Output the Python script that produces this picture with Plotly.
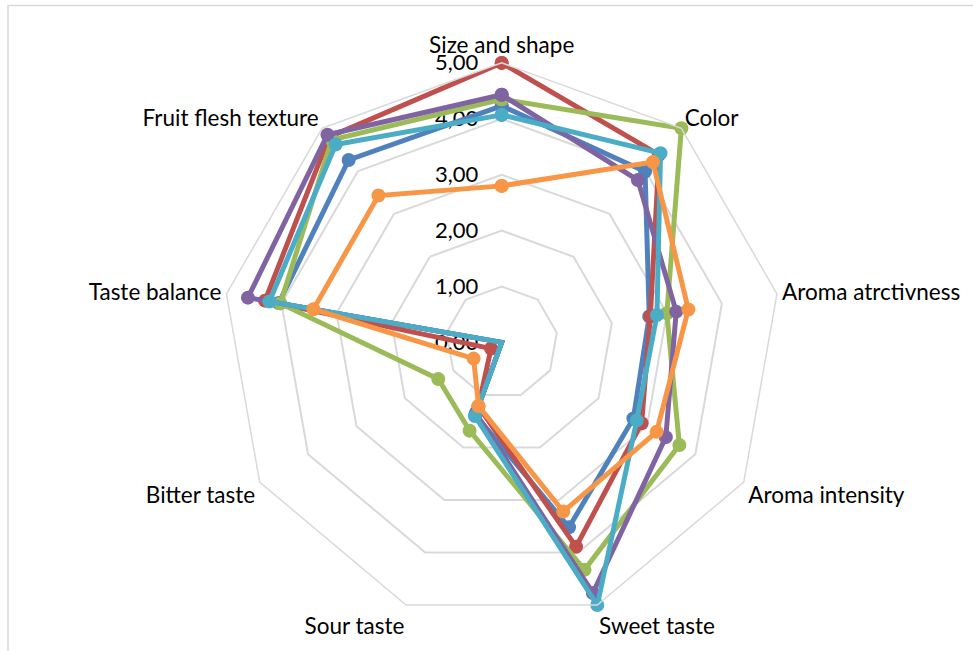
import plotly.graph_objects as go

categories = ["Size and shape", "Color", "Aroma atrctivness", "Aroma intensity",
              "Sweet taste", "Sour taste", "Bitter taste", "Taste balance",
              "Fruit flesh texture"]

series_1 = [4.23, 3.99, 2.68, 2.72, 3.52, 1.38, 0.00, 4.05, 4.26]
series_2 = [5.00, 4.38, 2.70, 2.89, 3.89, 1.22, 0.22, 4.30, 4.80]
series_3 = [4.35, 5.00, 3.00, 3.67, 4.33, 1.68, 1.31, 4.02, 4.73]
series_4 = [4.43, 3.79, 3.17, 3.39, 4.77, 1.35, 0.00, 4.61, 4.85]
series_5 = [4.07, 4.42, 2.82, 2.79, 5.00, 1.40, 0.00, 4.22, 4.62]
series_6 = [2.80, 4.21, 3.39, 3.20, 3.22, 1.21, 0.58, 3.42, 3.43]

series_names = ["Series1", "Series2", "Series3", "Series4", "Series5", "Series6"]
series_values = [series_1, series_2, series_3, series_4, series_5, series_6]
colors = ["#4F81BD", "#C0504D", "#9BBB59", "#8064A2", "#4BACC6", "#F79646"]

tick_values = [0, 1, 2, 3, 4, 5]
tick_labels = ["0,00", "1,00", "2,00", "3,00", "4,00", "5,00"]

fig = go.Figure()
for name, vals, col in zip(series_names, series_values, colors):
    fig.add_trace(go.Scatterpolar(
        r=vals + vals[:1],
        theta=categories + categories[:1],
        mode="lines+markers",
        name=name,
        line=dict(color=col, width=5),
        marker=dict(color=col, size=14),
        cliponaxis=False,
    ))

W, H = 973, 651
cx, cy, R = 501.7, 342.4, 279.5
cyb = H - cy

pad = "\u00a0" * 3 + "\u2009"  # pushes the centred tick text to the left of the axis

fig.update_layout(
    width=W, height=H,
    margin=dict(l=0, r=0, t=0, b=0),
    paper_bgcolor="white",
    plot_bgcolor="white",
    showlegend=False,
    font=dict(family="Lato, 'Open Sans', sans-serif", size=22, color="#000000"),
    polar=dict(
        domain=dict(x=[(cx - R) / W, (cx + R) / W], y=[(cyb - R) / H, (cyb + R) / H]),
        bgcolor="white",
        gridshape="linear",
        angularaxis=dict(
            rotation=90,
            direction="clockwise",
            showgrid=False,
            showline=True,
            linecolor="#D9D9D9",
            linewidth=1.5,
            ticks="",
            tickfont=dict(size=22.5, color="#000000"),
        ),
        radialaxis=dict(
            range=[0, 5],
            tickvals=tick_values,
            ticktext=[t + pad for t in tick_labels],
            angle=90,
            tickangle=90,
            side="counterclockwise",
            showline=False,
            showgrid=True,
            gridcolor="#D9D9D9",
            gridwidth=1.5,
            ticks="",
            tickfont=dict(size=22, color="#000000"),
            layer="below traces",
        ),
    ),
    shapes=[dict(
        type="rect", xref="paper", yref="paper",
        x0=8 / W, x1=1.05, y0=-0.05, y1=1 - 5.5 / H,
        line=dict(color="#D9D9D9", width=1.5),
        fillcolor="rgba(0,0,0,0)",
    )],
)

fig.write_html("out.html")
